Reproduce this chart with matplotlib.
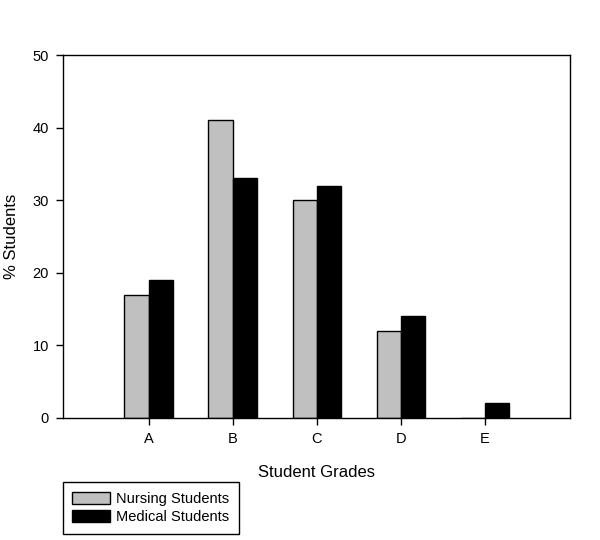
import numpy as np
import matplotlib
matplotlib.use('Agg')
import matplotlib.pyplot as plt

plt.rcParams['font.family'] = ['Liberation Sans', 'DejaVu Sans']

grades = ['A', 'B', 'C', 'D', 'E']
nursing = [17, 41, 30, 12, 0]
medical = [19, 33, 32, 14, 2]

def main():
    fig = plt.figure(figsize=(6, 5.4), dpi=100)
    ax = fig.add_axes([0.105, 0.226, 0.845, 0.672])
    x = np.arange(len(grades))
    w = 0.29
    ax.bar(x - w / 2, nursing, w, color='#c0c0c0', edgecolor='black',
           linewidth=1, label='Nursing Students')
    ax.bar(x + w / 2, medical, w, color='black', edgecolor='black',
           linewidth=1, label='Medical Students')
    ax.set_xlim(-1.02, 5.01)
    ax.set_ylim(0, 50)
    ax.set_yticks(range(0, 51, 10))
    ax.set_xticks(x)
    ax.set_xticklabels(grades)
    ax.tick_params(direction='out', length=5, width=1, labelsize=10.5, pad=5)
    for s in ax.spines.values():
        s.set_linewidth(1)
    ax.set_xlabel('Student Grades', fontsize=12, labelpad=14)
    ax.set_ylabel('% Students', fontsize=12, labelpad=10)
    leg = fig.legend(loc='upper left', bbox_to_anchor=(0.105, 0.107),
                     fontsize=10.5, frameon=True, fancybox=False,
                     edgecolor='black', framealpha=1, borderpad=0.65,
                     handlelength=2.6, handleheight=0.9, labelspacing=0.3,
                     handletextpad=0.4, borderaxespad=0)
    leg.get_frame().set_linewidth(1)
    fig.savefig('out.png', dpi=100)

if __name__ == '__main__':
    main()
